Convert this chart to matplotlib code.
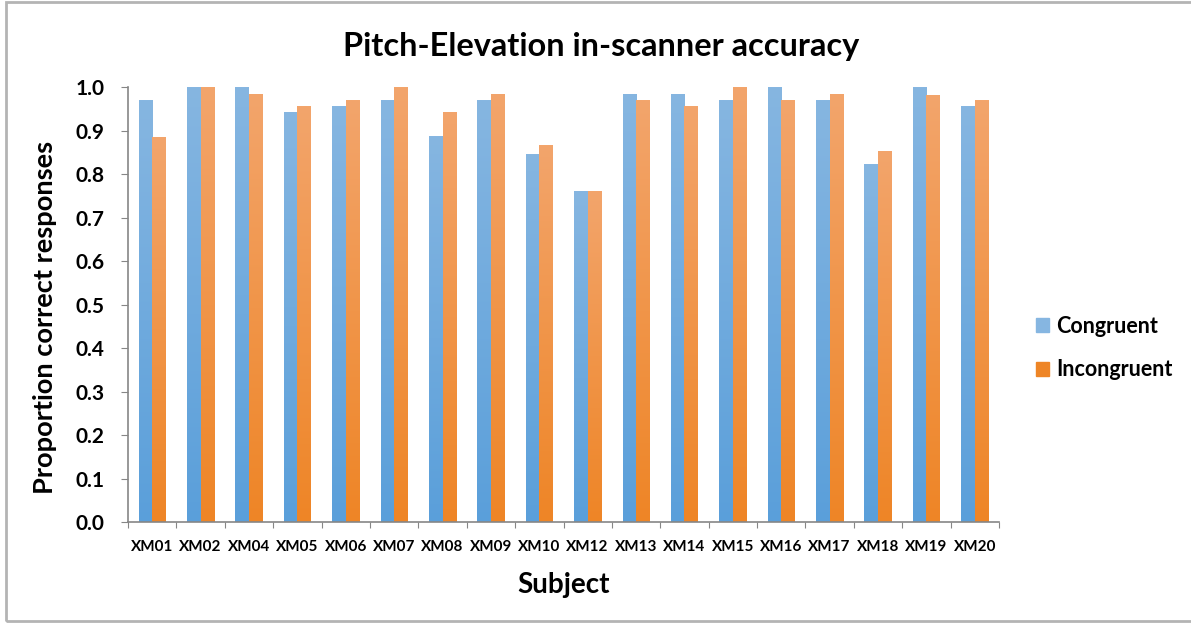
import numpy as np
import matplotlib.pyplot as plt
from matplotlib.colors import LinearSegmentedColormap
from matplotlib.patches import Rectangle

plt.rcParams['font.family'] = ['Lato', 'DejaVu Sans']

subjects = ['XM01', 'XM02', 'XM04', 'XM05', 'XM06', 'XM07', 'XM08', 'XM09', 'XM10',
            'XM12', 'XM13', 'XM14', 'XM15', 'XM16', 'XM17', 'XM18', 'XM19', 'XM20']
congruent = [0.970, 1.000, 1.000, 0.943, 0.956, 0.970, 0.887, 0.970, 0.845,
             0.762, 0.984, 0.984, 0.970, 1.000, 0.970, 0.822, 1.000, 0.956]
incongruent = [0.886, 1.000, 0.984, 0.956, 0.970, 1.000, 0.943, 0.984, 0.866,
               0.762, 0.970, 0.956, 1.000, 0.970, 0.984, 0.854, 0.982, 0.970]

blue_top, blue_bot = '#86b6e1', '#5a9fda'
orange_top, orange_bot = '#f3a56c', '#ee8526'

fig = plt.figure(figsize=(11.91, 6.23), dpi=100)
# thin grey frame round the chart area
fig.add_artist(Rectangle((6 / 1191, 2 / 623), 1.2, 619 / 623, transform=fig.transFigure,
                         fill=False, edgecolor='#b4b4b4', linewidth=2))
ax = fig.add_axes([0.1075, 0.1621, 0.7313, 0.6982])

x = np.arange(len(subjects))
w = 0.28
bars_c = ax.bar(x - w / 2, congruent, w, color=blue_bot, label='Congruent')
bars_i = ax.bar(x + w / 2, incongruent, w, color=orange_bot, label='Incongruent')

# vertical gradient fill on each bar, lighter at the top
grad = np.linspace(0, 1, 256).reshape(-1, 1)
for bars, top, bot in [(bars_c, blue_top, blue_bot), (bars_i, orange_top, orange_bot)]:
    cmap = LinearSegmentedColormap.from_list('g', [bot, top])
    for b in bars:
        bx, by = b.get_x(), b.get_y()
        bw, bh = b.get_width(), b.get_height()
        im = ax.imshow(grad, cmap=cmap, aspect='auto', origin='lower',
                       extent=(bx, bx + bw, by, by + bh), zorder=2)
        im.set_clip_path(b)
        b.set_facecolor('none')

ax.set_xlim(-0.5, len(subjects) - 0.5)
ax.set_ylim(0, 1.0)
ax.set_yticks(np.arange(0, 1.01, 0.1))
ax.set_yticklabels([f'{v:.1f}' for v in np.arange(0, 1.01, 0.1)],
                   fontsize=15, fontweight='bold')
ax.set_xticks(np.arange(-0.5, len(subjects)), labels=[])
ax.set_xticks(x, labels=subjects, minor=True)
ax.tick_params(axis='x', which='minor', length=0, labelsize=11, pad=13)
for t in ax.get_xticklabels(minor=True):
    t.set_fontweight('bold')
ax.tick_params(axis='x', which='major', length=4, color='#868686')
ax.tick_params(axis='y', length=5, color='#868686', pad=12)

for s in ['top', 'right']:
    ax.spines[s].set_visible(False)
for s in ['left', 'bottom']:
    ax.spines[s].set_color('#868686')
    ax.spines[s].set_linewidth(1.2)

fig.suptitle('Pitch-Elevation in-scanner accuracy', fontsize=23.4, fontweight='bold',
             x=0.505, y=0.948)
ax.set_xlabel('Subject', fontsize=20, fontweight='bold', labelpad=13)
ax.set_ylabel('Proportion correct responses', fontsize=19.6, fontweight='bold')
ax.yaxis.set_label_coords(-0.081, 0.471)

handles = [Rectangle((0, 0), 1, 1, color=blue_top), Rectangle((0, 0), 1, 1, color=orange_bot)]
ax.legend(handles, ['Congruent', 'Incongruent'], loc='center left',
          bbox_to_anchor=(1.02, 0.40), frameon=False,
          prop={'weight': 'bold', 'size': 15.5}, handlelength=0.6, handleheight=0.6,
          handletextpad=0.35, labelspacing=1.05)

fig.savefig('out.png', dpi=100)
